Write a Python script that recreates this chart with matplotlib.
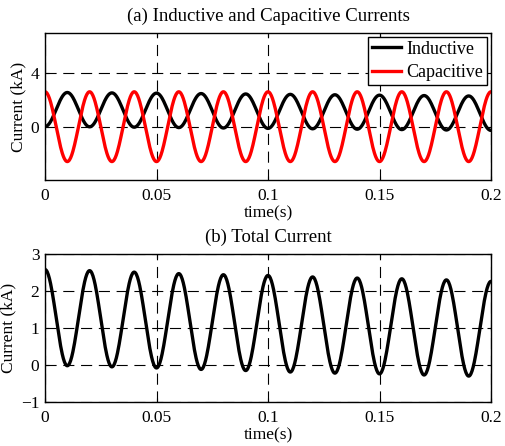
import numpy as np
import matplotlib
matplotlib.use("Agg")
import matplotlib.pyplot as plt

plt.rcParams['font.family'] = ['Liberation Serif', 'DejaVu Serif']

# extrema times (s), one per half cycle of the 50 Hz waveforms
t_ext = [0.00, 0.01, 0.02, 0.03, 0.04, 0.05, 0.06, 0.07, 0.08, 0.09, 0.10,
         0.11, 0.12, 0.13, 0.14, 0.15, 0.16, 0.17, 0.18, 0.19, 0.20]

# inductive current extrema (kA): troughs at even steps, peaks at odd steps
inductive_ext = [0.00, 2.55, -0.02, 2.52, -0.05, 2.50, -0.08, 2.47, -0.11, 2.44, -0.14,
                 2.41, -0.17, 2.38, -0.20, 2.35, -0.23, 2.32, -0.26, 2.29, -0.29]

# capacitive current extrema (kA)
capacitive_ext = [2.60, -2.62, 2.60, -2.62, 2.60, -2.62, 2.60, -2.62, 2.60, -2.62, 2.60,
                  -2.62, 2.60, -2.62, 2.60, -2.62, 2.60, -2.62, 2.60, -2.62, 2.60]

# total current extrema (kA)
total_ext = [2.58, -0.02, 2.55, -0.05, 2.51, -0.08, 2.47, -0.12, 2.44, -0.15, 2.42,
             -0.19, 2.38, -0.22, 2.35, -0.24, 2.33, -0.27, 2.30, -0.30, 2.26]


def wave(times, values, n=40):
    # half-cosine segments joining successive extrema
    ts, vs = [], []
    for i in range(len(times) - 1):
        s = np.linspace(0, 1, n, endpoint=False)
        ts.append(times[i] + (times[i + 1] - times[i]) * s)
        vs.append(values[i] + (values[i + 1] - values[i]) * (1 - np.cos(np.pi * s)) / 2)
    ts.append([times[-1]])
    vs.append([values[-1]])
    return np.concatenate(ts), np.concatenate(vs)


fig = plt.figure(figsize=(5.06, 4.46), dpi=100)
W, H = 506, 446
ax1 = fig.add_axes([45 / W, 1 - 180 / H, 446 / W, 147 / H])
ax2 = fig.add_axes([45 / W, 1 - 402 / H, 446 / W, 148 / H])

grid_kw = dict(color='black', linestyle=(0, (10, 6)), linewidth=0.8)
ticks_x = [0, 0.05, 0.1, 0.15, 0.2]
ticklabels_x = ['0', '0.05', '0.1', '0.15', '0.2']

t, v = wave(t_ext, inductive_ext)
ax1.plot(t, v, color='black', linewidth=2.4, label='Inductive')
t, v = wave(t_ext, capacitive_ext)
ax1.plot(t, v, color='red', linewidth=2.4, label='Capacitive')
ax1.set_xlim(0, 0.2)
ax1.set_ylim(-4, 7)
ax1.set_yticks([0, 4])
ax1.set_xticks(ticks_x)
ax1.set_xticklabels(ticklabels_x)
ax1.grid(True, **grid_kw)
ax1.set_title('(a) Inductive and Capacitive Currents', fontsize=13.5, pad=9)
ax1.set_xlabel('time(s)', fontsize=12.5, labelpad=1)
ax1.set_ylabel('Current (kA)', fontsize=12.5, labelpad=3)
leg = ax1.legend(loc='upper right', fontsize=13, frameon=True, fancybox=False,
                 edgecolor='black', framealpha=1, borderaxespad=0.2,
                 handlelength=1.6, borderpad=0.22, labelspacing=0.35, handletextpad=0.3)
leg.get_frame().set_linewidth(1.0)

t, v = wave(t_ext, total_ext)
ax2.plot(t, v, color='black', linewidth=2.4)
ax2.set_xlim(0, 0.2)
ax2.set_ylim(-1, 3)
ax2.set_yticks([-1, 0, 1, 2, 3])
ax2.set_xticks(ticks_x)
ax2.set_xticklabels(ticklabels_x)
ax2.grid(True, **grid_kw)
ax2.set_title('(b) Total Current', fontsize=13.5, pad=9)
ax2.set_xlabel('time(s)', fontsize=12.5, labelpad=1)
ax2.set_ylabel('Current (kA)', fontsize=12.5, labelpad=3)

for ax in (ax1, ax2):
    ax.tick_params(direction='in', top=True, right=True, labelsize=12.5, length=3)
    ax.tick_params(axis='x', pad=6)
    ax.tick_params(axis='y', pad=4)
    for sp in ax.spines.values():
        sp.set_linewidth(1.0)

fig.savefig('out.png', dpi=100)
